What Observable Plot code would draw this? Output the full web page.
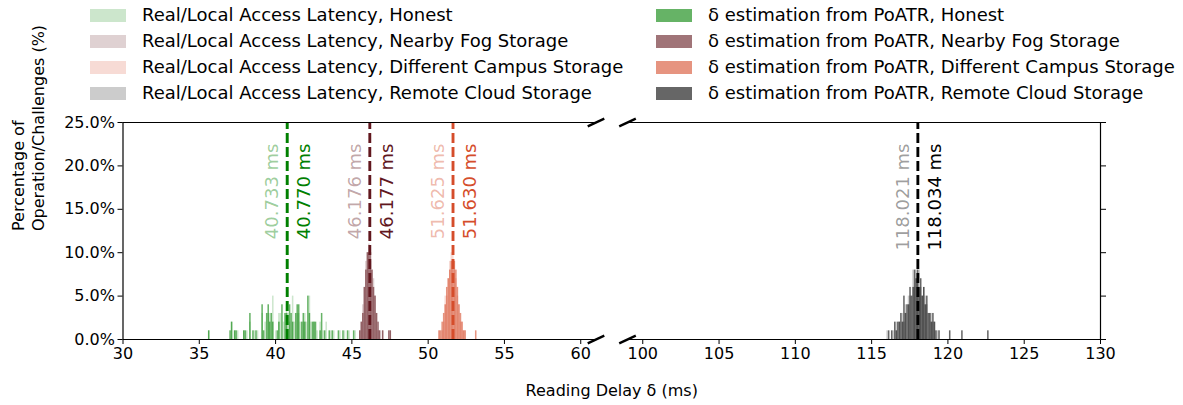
<!DOCTYPE html>
<html><head><meta charset="utf-8">
<script src="https://cdn.jsdelivr.net/npm/d3@7"></script>
<script src="https://cdn.jsdelivr.net/npm/@observablehq/plot@0.6"></script>
<style>
body{margin:0;background:#fff;font-family:"DejaVu Sans",sans-serif;}
#wrap{position:relative;width:1183px;height:405px;overflow:hidden;background:#fff}
#chart{position:absolute;left:0;top:0}
#legend{position:absolute;left:0;top:0;width:1183px;height:110px}
.item{position:absolute;display:flex;align-items:center;font-size:18px;color:#000;white-space:nowrap;height:26px;line-height:26px}
.sw{width:36px;height:13px;margin-right:16px;flex:none}
</style></head><body>
<div id="wrap"><div id="chart"></div><div id="legend"></div></div>
<script>
// ---- groups / colours ----
const groups = ["Honest", "Nearby Fog Storage", "Different Campus Storage", "Remote Cloud Storage"];
const groupColors = ["#008000", "#61171e", "#d54d2b", "#000000"];

// ---- real / local access latency (ms) : mean per group ----
const realMeans = [40.733, 46.176, 51.625, 118.021];
// ---- δ estimation from PoATR (ms) : mean per group ----
const estMeans = [40.770, 46.177, 51.630, 118.034];

// ---- histogram bins (bin start, ms) and percentage of challenges ----
const honestRealBins = [35.6,37.1,37.3,37.5,37.9,38.1,38.3,38.6,38.8,39.1,39.3,39.5,39.6,39.8,40.0,40.2,40.3,40.5,40.7,40.8,40.9,41.1,41.2,41.4,41.5,41.6,41.8,41.9,42.0,42.2,42.3,42.5,42.7,42.9,43.1,43.3,43.6,43.8,44.2,44.5,44.8,45.2];
const honestRealPct  = [1,2,1,1,1,1,2,1,1,3,2,3,3,5,1,3,3,2,4,3,2,5,2,3,3,2,2,3,2,5,2,2,1,2,1,2,1,1,1,1,1,1];
const honestEstBins = [35.6,37.0,37.1,37.3,37.4,37.9,38.0,38.3,38.5,38.7,39.1,39.2,39.4,39.5,39.6,39.7,39.8,40.1,40.2,40.4,40.6,40.7,40.9,41.0,41.1,41.3,41.4,41.5,41.7,41.8,41.9,42.1,42.2,42.4,42.5,42.6,42.9,43.0,43.2,43.5,43.7,44.1,44.4,44.7,45.1];
const honestEstPct  = [1,1,2,1,1,1,1,3,1,1,4,1,3,4,2,3,2,1,2,4,3,3,4,3,2,3,4,4,2,3,2,5,3,2,2,2,1,3,1,1,1,1,1,1,1];

const fogRealBins = [45.5,45.6,45.7,45.8,45.9,46.0,46.1,46.2,46.3,46.4,46.5,46.6,46.7,46.8,47.0,47.5];
const fogRealPct  = [1,2,4,6,9,10,11,9,8,7,5,3,1,1,1,1];
const fogEstBins = [45.5,45.6,45.7,45.8,45.9,46.0,46.1,46.2,46.3,46.4,46.5,46.6,46.7,46.8,47.0,47.4,47.5];
const fogEstPct  = [1,2,3,6,8,10,10,10,8,6,5,3,2,1,1,1,1];

const campusRealBins = [50.7,50.9,51.0,51.1,51.2,51.3,51.4,51.5,51.6,51.7,51.8,51.9,52.0,52.1,52.2,52.3,52.4];
const campusRealPct  = [1,1,2,5,5,7,9,10,10,8,7,5,4,2,2,1,1];
const campusEstBins = [50.7,50.8,50.9,51.0,51.1,51.2,51.3,51.4,51.5,51.6,51.7,51.8,51.9,52.0,52.1,52.2,52.3,52.4,53.1];
const campusEstPct  = [1,1,2,3,4,6,7,8,9,9,9,8,6,4,3,2,1,1,1];

const remoteRealBins = [116.0,116.4,116.6,116.8,117.0,117.1,117.2,117.4,117.5,117.7,117.8,117.9,118.0,118.1,118.2,118.3,118.4,118.5,118.6,118.8,118.9,119.0,119.1,119.3];
const remoteRealPct  = [1,1,2,2,3,2,4,5,5,8,6,8,7,8,6,5,6,5,4,3,3,2,2,1];
const remoteEstBins = [116.1,116.3,116.5,116.6,116.7,116.8,116.9,117.0,117.1,117.2,117.3,117.4,117.5,117.6,117.7,117.8,117.9,118.0,118.1,118.2,118.3,118.4,118.5,118.6,118.7,118.8,118.9,119.0,119.1,119.2,119.4,120.1,120.9,122.6];
const remoteEstPct  = [1,1,2,1,2,2,3,2,5,3,4,4,6,5,6,8,7,8,6,7,5,6,4,5,3,3,2,3,2,1,1,1,1,1];

const binWidth = 0.1;

// ---- axes ----
const xPanels = [[30, 61], [99, 130]];
const xTicks = [30,35,40,45,50,55,60,100,105,110,115,120,125,130];
const yTicks = [0,5,10,15,20,25];
const yMax = 25;

// ---- layout ----
const W = 1183, H = 405, mL = 122.5, mR = 83, mT = 122, mB = 66;
const panelGapPx = 31.5;
// broken axis: map ms onto one continuous coordinate (left panel, gap, right panel)
const pxPerMs = ((W - mL - mR) - panelGapPx) / ((xPanels[0][1] - xPanels[0][0]) + (xPanels[1][1] - xPanels[1][0]));
const gapU = panelGapPx / pxPerMs;
const toU = v => v <= xPanels[0][1] + 1e-9 ? v : v - xPanels[1][0] + xPanels[0][1] + gapU;
const fromU = u => u <= xPanels[0][1] + 1e-9 ? u : u - xPanels[0][1] - gapU + xPanels[1][0];

// ---- build tables ----
const realBins = [honestRealBins, fogRealBins, campusRealBins, remoteRealBins];
const realPct = [honestRealPct, fogRealPct, campusRealPct, remoteRealPct];
const estBins = [honestEstBins, fogEstBins, campusEstBins, remoteEstBins];
const estPct = [honestEstPct, fogEstPct, campusEstPct, remoteEstPct];
function table(binsArr, pctArr) {
  const rows = [];
  binsArr.forEach((bins, g) => bins.forEach((b, i) => rows.push({x0: toU(b), x1: toU(b) + binWidth, pct: pctArr[g][i], color: groupColors[g]})));
  return rows;
}
const realRows = table(realBins, realPct);
const estRows = table(estBins, estPct);
const realLines = realMeans.map((v, g) => ({v, u: toU(v), color: groupColors[g]}));
const estLines = estMeans.map((v, g) => ({v, u: toU(v), color: groupColors[g]}));
const spines = xPanels.map(([lo, hi]) => ({lo: toU(lo), hi: toU(hi)}));
const breaks = [];
spines.forEach((p, i) => {
  const e = i === 0 ? p.hi : p.lo;
  breaks.push({x: e, y: 0}, {x: e, y: yMax});
});
const slash = {draw(ctx) { ctx.moveTo(-8.3, 3.8); ctx.lineTo(8.3, -3.8); }};

const chart = Plot.plot({
  width: W, height: H,
  marginLeft: mL, marginRight: mR, marginTop: mT, marginBottom: mB,
  x: {domain: [toU(xPanels[0][0]), toU(xPanels[1][1])]},
  y: {domain: [0, yMax]},
  color: {type: "identity"},
  style: {fontFamily: "DejaVu Sans", fontSize: "16px", color: "#000", background: "white", overflow: "visible"},
  marks: [
    Plot.rect(realRows, {x1: "x0", x2: "x1", y1: 0, y2: "pct", fill: "color", fillOpacity: 0.2}),
    Plot.rect(estRows, {x1: "x0", x2: "x1", y1: 0, y2: "pct", fill: "color", fillOpacity: 0.6}),
    Plot.ruleX(realLines, {x: "u", y1: 0, y2: yMax, stroke: "color", strokeOpacity: 0.4, strokeWidth: 2.7, strokeDasharray: "10,4"}),
    Plot.ruleX(estLines, {x: "u", y1: 0, y2: yMax, stroke: "color", strokeWidth: 2.7, strokeDasharray: "10,4"}),
    Plot.text(realLines, {x: "u", text: d => d.v.toFixed(3) + " ms", frameAnchor: "top", rotate: -90, textAnchor: "end", dx: -22, dy: 21, fill: "color", fillOpacity: 0.4, fontSize: 18}),
    Plot.text(estLines, {x: "u", text: d => d.v.toFixed(3) + " ms", frameAnchor: "top", rotate: -90, textAnchor: "end", dx: 10, dy: 21, fill: "color", fontSize: 18}),
    // spines
    Plot.ruleY(spines, {x1: "lo", x2: "hi", y: 0, stroke: "#000", strokeWidth: 1.2}),
    Plot.ruleY(spines, {x1: "lo", x2: "hi", y: yMax, stroke: "#000", strokeWidth: 1.2}),
    Plot.ruleX([spines[0].lo, spines[1].hi], {x: d => d, y1: 0, y2: yMax, stroke: "#000", strokeWidth: 1.2}),
    Plot.dot(breaks, {x: "x", y: "y", symbol: slash, r: 5, stroke: "#000", fill: "none", strokeWidth: 2.4}),
    Plot.axisX({ticks: xTicks.map(toU), tickFormat: u => String(Math.round(fromU(u))), tickSize: 5, tickPadding: 3, label: null, fontSize: 16}),
    Plot.axisY({anchor: "left", ticks: yTicks, tickFormat: d => d.toFixed(1) + "%", tickSize: 5, tickPadding: 3, label: null, fontSize: 16}),
    Plot.axisY({anchor: "right", ticks: yTicks, tickFormat: () => "", tickSize: 5, label: null}),
    Plot.text(["Reading Delay δ (ms)"], {text: d => d, frameAnchor: "bottom", dy: 56, fontSize: 16}),
    Plot.text(["Percentage of\nOperation/Challenges (%)"], {text: d => d, frameAnchor: "left", dx: -95.5, rotate: -90, fontSize: 16, lineHeight: 1.25})
  ]
});
document.getElementById("chart").appendChild(chart);

// ---- legend ----
const legend = document.getElementById("legend");
const rowsY = [15, 41, 67, 93];
groups.forEach((g, i) => {
  const c = d3.color(groupColors[i]);
  const mk = (left, label, a) => {
    const it = document.createElement("div");
    it.className = "item";
    it.style.left = left + "px";
    it.style.top = (rowsY[i] - 13) + "px";
    const sw = document.createElement("div");
    sw.className = "sw";
    sw.style.background = `rgba(${c.r},${c.g},${c.b},${a})`;
    const tx = document.createElement("span");
    tx.textContent = label;
    it.appendChild(sw); it.appendChild(tx);
    legend.appendChild(it);
  };
  mk(90, "Real/Local Access Latency, " + g, 0.2);
  mk(656, "δ estimation from PoATR, " + g, 0.6);
});
</script>
</body></html>
